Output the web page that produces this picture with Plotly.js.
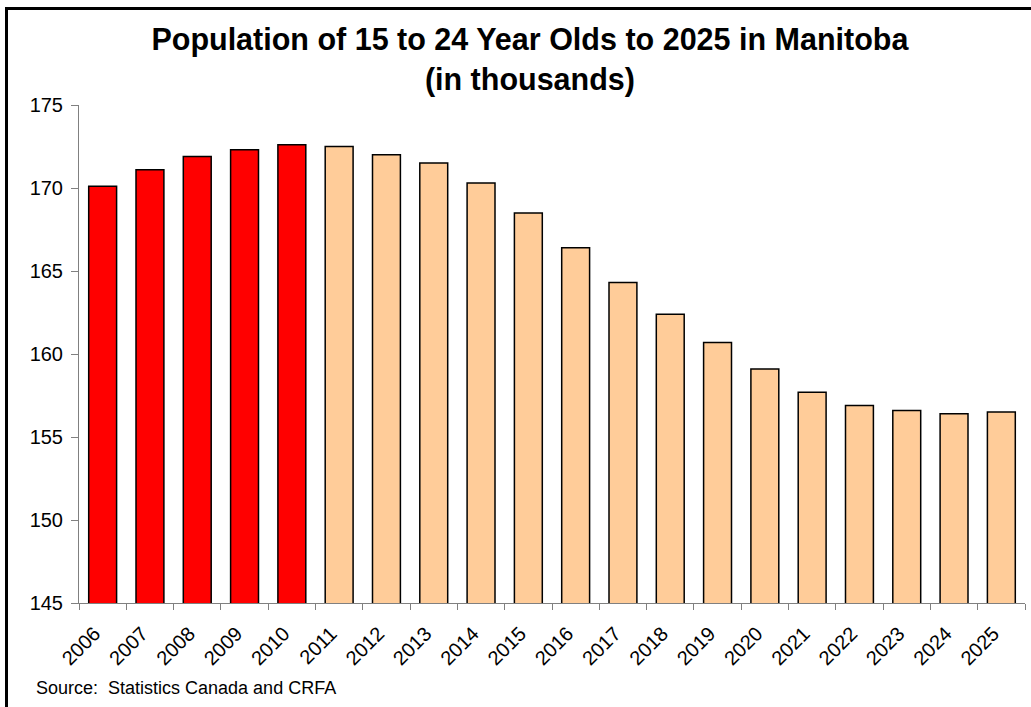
<!DOCTYPE html>
<html>
<head>
<meta charset="utf-8">
<script src="https://cdn.plot.ly/plotly-3.0.1.min.js"></script>
<style>
  html, body { margin: 0; padding: 0; background: #ffffff; overflow: hidden; }
  #wrap { position: relative; width: 1031px; height: 707px; }
  #chart { position: absolute; left: 0; top: 0; width: 1031px; height: 707px; }
  #frame {
    position: absolute; left: 5px; top: 7px; width: 1100px; height: 800px;
    border: 3px solid #000000; pointer-events: none; box-sizing: border-box;
  }
</style>
</head>
<body>
<div id="wrap">
  <div id="chart"></div>
  <div id="frame"></div>
</div>
<script>
// Population aged 15-24 in Manitoba, thousands
const actualYears = ["2006", "2007", "2008", "2009", "2010"];
const actualValues = [170.1, 171.1, 171.9, 172.3, 172.6];

const projectedYears = ["2011", "2012", "2013", "2014", "2015", "2016", "2017", "2018",
  "2019", "2020", "2021", "2022", "2023", "2024", "2025"];
const projectedValues = [172.5, 172.0, 171.5, 170.3, 168.5, 166.4, 164.3, 162.4,
  160.7, 159.1, 157.7, 156.9, 156.6, 156.4, 156.5];

const allYears = actualYears.concat(projectedYears);
const yTicks = [145, 150, 155, 160, 165, 170, 175];

const font = "Arial, 'Liberation Sans', sans-serif";
const barLine = { color: "#000000", width: 1.5 };

const traces = [
  {
    type: "bar", name: "Actual",
    x: actualYears, y: actualValues,
    marker: { color: "#FF0000", line: barLine },
    hoverinfo: "x+y"
  },
  {
    type: "bar", name: "Projected",
    x: projectedYears, y: projectedValues,
    marker: { color: "#FFCC99", line: barLine },
    hoverinfo: "x+y"
  }
];

const layout = {
  width: 1031, height: 707,
  margin: { l: 79, r: 6, t: 105, b: 104 },
  paper_bgcolor: "#ffffff", plot_bgcolor: "#ffffff",
  showlegend: false,
  barmode: "overlay",
  bargap: 0.41,
  font: { family: font, color: "#000000" },
  title: {
    text: "<b>Population of 15 to 24 Year Olds to 2025 in Manitoba<br>(in thousands)</b>",
    font: { family: font, size: 30.5, color: "#000000" },
    x: 0.514, xref: "container", xanchor: "center",
    y: 0.929, yref: "container", yanchor: "top"
  },
  xaxis: {
    type: "category",
    categoryorder: "array", categoryarray: allYears,
    tickson: "boundaries",
    ticks: "outside", ticklen: 6, tickcolor: "#808080", tickwidth: 1,
    showline: true, linecolor: "#808080", linewidth: 1,
    showgrid: false, zeroline: false,
    tickangle: -45,
    ticklabelstandoff: 10,
    ticklabelshift: -8,
    tickfont: { family: font, size: 20, color: "#000000" }
  },
  yaxis: {
    range: [145, 175],
    tickvals: yTicks,
    ticks: "outside", ticklen: 7, tickcolor: "#808080", tickwidth: 1,
    showline: true, linecolor: "#808080", linewidth: 1,
    showgrid: false, zeroline: false,
    ticklabelstandoff: 4,
    tickfont: { family: font, size: 20, color: "#000000" }
  },
  annotations: [
    {
      text: "Source:  Statistics Canada and CRFA",
      xref: "paper", yref: "paper",
      x: -0.048, y: -0.17, xanchor: "left", yanchor: "middle",
      showarrow: false,
      font: { family: font, size: 18, color: "#000000" }
    }
  ]
};

Plotly.newPlot("chart", traces, layout, { displayModeBar: false, staticPlot: true });
</script>
</body>
</html>
